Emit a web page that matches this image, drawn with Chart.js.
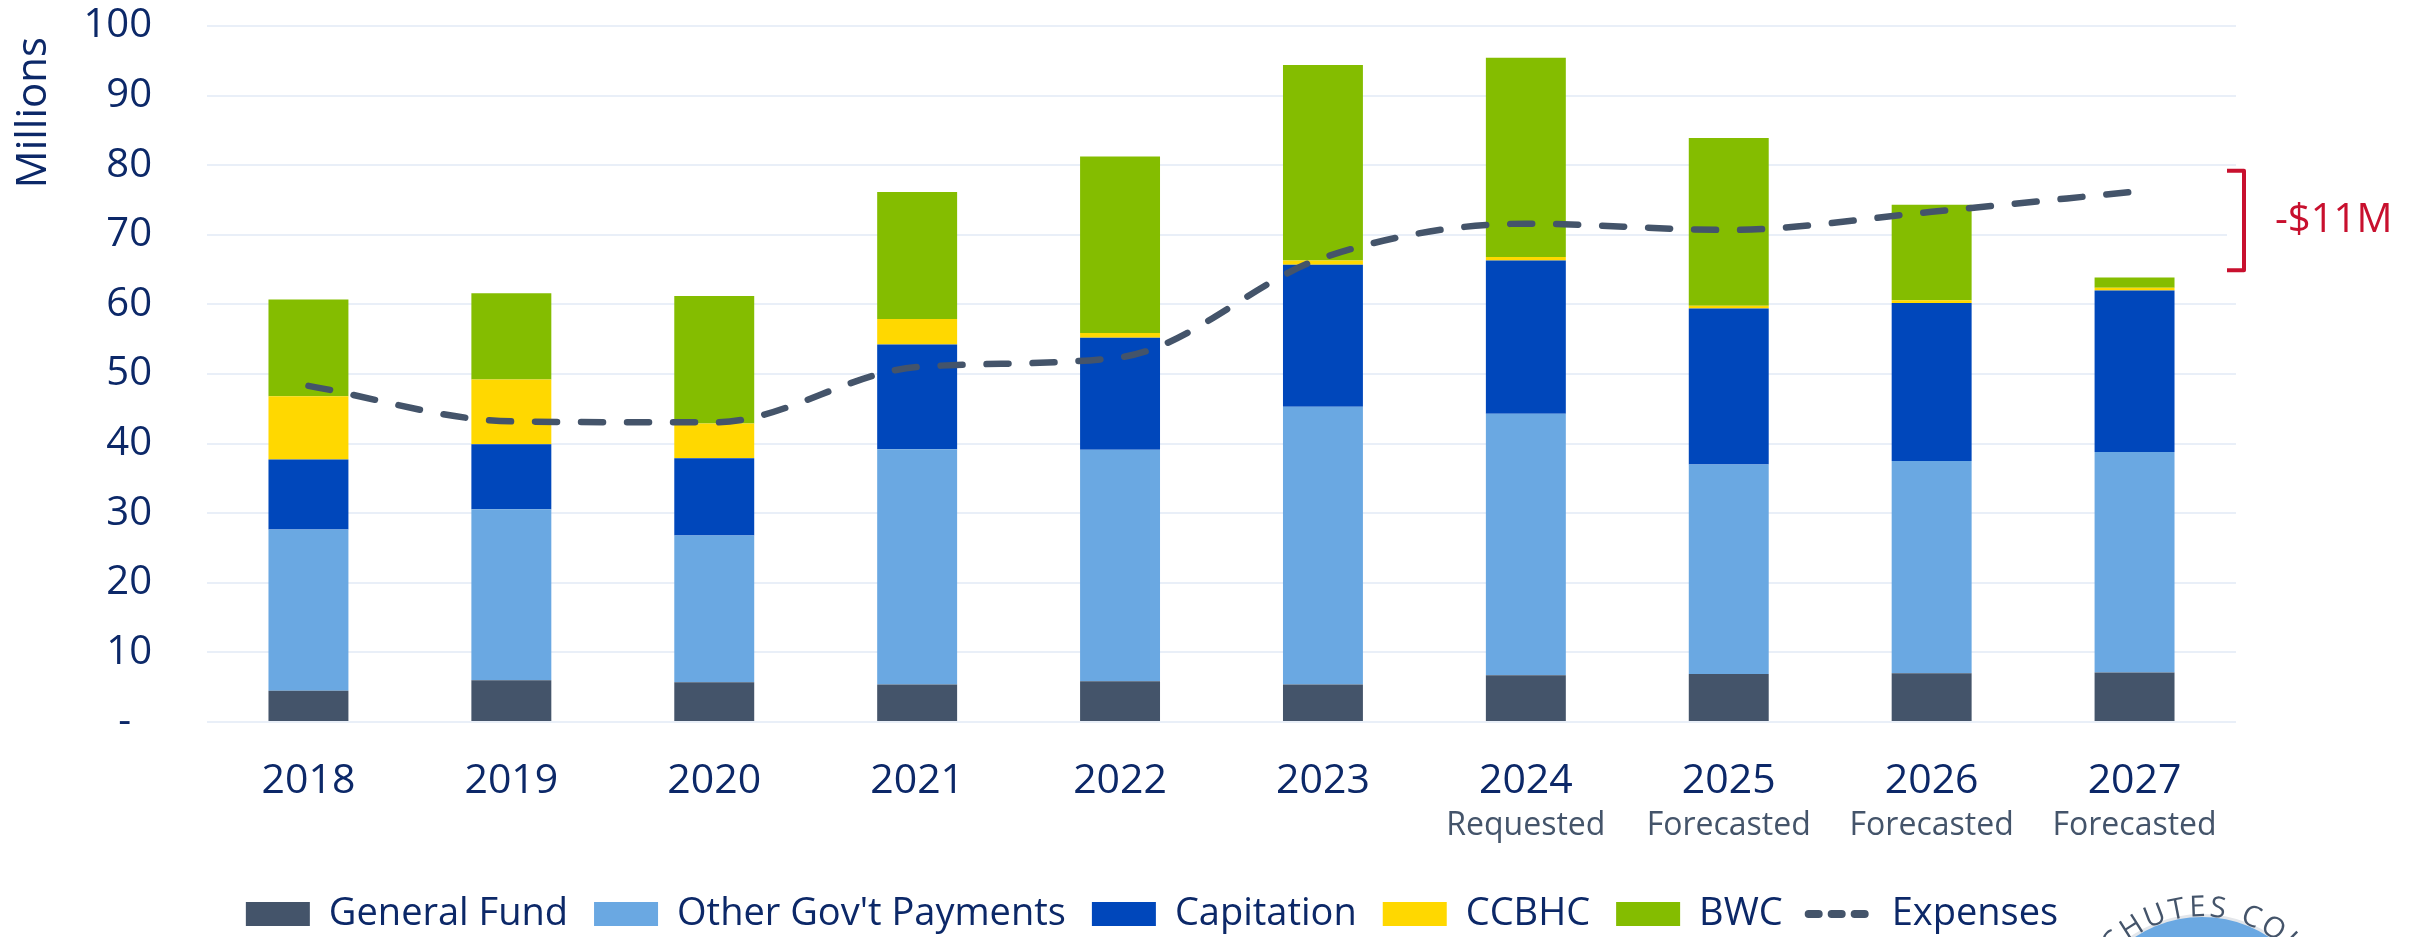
<!DOCTYPE html>
<html>
<head>
<meta charset="utf-8">
<title>Revenue by Source vs Expenses</title>
<script src="https://cdn.jsdelivr.net/npm/chart.js@4.4.1/dist/chart.umd.min.js"></script>
<style>
    body { margin: 0; background: #fff; }
    #wrap { width: 2422px; height: 937px; position: relative; }
</style>
</head>
<body>
<div id="wrap"><canvas id="chart1"></canvas></div>
<script>
// fiscal years and the note printed under each one
var years = ['2018', '2019', '2020', '2021', '2022', '2023', '2024', '2025', '2026', '2027'];
var yearNotes = ['', '', '', '', '', '', 'Requested', 'Forecasted', 'Forecasted', 'Forecasted'];

// revenue by source, millions
var generalFund = [4.5, 6.0, 5.7, 5.4, 5.85, 5.4, 6.7, 6.9, 7.0, 7.1];
var otherGov    = [23.15, 24.55, 21.1, 33.8, 33.25, 39.9, 37.6, 30.1, 30.5, 31.7];
var capitation  = [10.05, 9.35, 11.1, 15.05, 16.1, 20.4, 22.0, 22.4, 22.7, 23.2];
var ccbhc       = [9.1, 9.3, 5.0, 3.65, 0.7, 0.6, 0.5, 0.4, 0.4, 0.4];
var bwc         = [13.9, 12.4, 18.3, 18.25, 25.35, 28.1, 28.65, 24.1, 13.7, 1.45];

// expenses, millions
var expenses = [48.3, 43.2, 43.05, 51.0, 52.4, 66.7, 71.6, 70.7, 73.3, 76.2];

// 2027 shortfall bracket
var gapRange = [64.9, 79.2];
var gapLabel = '-$11M';

var navy = '#0C2868';
var slate = '#44546A';
var red = '#C8102E';

Chart.defaults.font.family = "'Open Sans', sans-serif";

var gapBracket = {
    id: 'gapBracket',
    afterDatasetsDraw: function(chart){
        var ctx = chart.ctx;
        var y = chart.scales.y;
        var top = y.getPixelForValue(gapRange[1]);
        var bottom = y.getPixelForValue(gapRange[0]);
        var x = chart.chartArea.right + 8;
        ctx.save();
        ctx.fillStyle = '#fff';
        ctx.fillRect(x - 17, top, 19, bottom - top);
        ctx.strokeStyle = red;
        ctx.lineWidth = 4;
        ctx.lineJoin = 'round';
        ctx.beginPath();
        ctx.moveTo(x - 17, top);
        ctx.lineTo(x, top);
        ctx.lineTo(x, bottom);
        ctx.lineTo(x - 17, bottom);
        ctx.stroke();
        ctx.fillStyle = red;
        ctx.font = "40px 'Open Sans'";
        ctx.textBaseline = 'middle';
        ctx.fillText(gapLabel, x + 31, (top + bottom) / 2);
        ctx.restore();
    }
};

// legend sits a bit right of the plot centre
var legendNudge = {
    id: 'legendNudge',
    afterLayout: function(chart){
        chart.legend.left += 34;
        chart.legend.right += 34;
    }
};

// county seal peeking in at the bottom right corner
var countySeal = {
    id: 'countySeal',
    afterDraw: function(chart){
        var ctx = chart.ctx;
        var cx = chart.width - 220;
        var cy = chart.height + 102;
        ctx.save();
        ctx.beginPath();
        ctx.arc(cx, cy, 125, 0, Math.PI * 2);
        ctx.fillStyle = '#E3E6EA';
        ctx.fill();
        ctx.beginPath();
        ctx.arc(cx, cy, 122, 0, Math.PI * 2);
        ctx.fillStyle = '#6AA8E2';
        ctx.fill();

        var text = 'DESCHUTES COUNTY';
        ctx.font = "29px 'Open Sans'";
        ctx.fillStyle = slate;
        ctx.textAlign = 'center';
        var r = 140, track = 6;
        var widths = [];
        for(var i = 0; i < text.length; i++){
            widths.push(ctx.measureText(text[i]).width);
        }
        // angle of each letter centre, 'E' of CHUTES just left of the top
        var angles = [0];
        for(i = 1; i < text.length; i++){
            angles.push(angles[i - 1] + ((widths[i - 1] + widths[i]) / 2 + track) / r);
        }
        var shift = -Math.PI / 2 - 0.035 - angles[7];
        for(i = 0; i < text.length; i++){
            var a = angles[i] + shift;
            ctx.save();
            ctx.translate(cx + Math.cos(a) * 131, cy + Math.sin(a) * 131);
            ctx.rotate(a + Math.PI / 2);
            ctx.fillText(text[i], 0, 0);
            ctx.restore();
        }
        ctx.restore();
    }
};

function barSet(label, values, color){
    return {
        type: 'bar',
        label: label,
        data: values,
        backgroundColor: color,
        borderWidth: 0,
        pointStyle: 'rect',
        stack: 'revenue',
        barPercentage: 0.394,
        categoryPercentage: 1
    };
}

var ctx = document.getElementById('chart1').getContext('2d');
var myChart = new Chart(ctx, {
    data: {
        labels: years,
        datasets: [
            barSet('General Fund', generalFund, '#44546A'),
            barSet("Other Gov't Payments", otherGov, '#6AA8E2'),
            barSet('Capitation', capitation, '#0047BB'),
            barSet('CCBHC', ccbhc, '#FFD800'),
            barSet('BWC', bwc, '#84BD00'),
            {
                type: 'line',
                label: 'Expenses',
                data: expenses,
                borderColor: slate,
                backgroundColor: slate,
                borderWidth: 6.5,
                borderDash: [22, 24],
                borderCapStyle: 'round',
                cubicInterpolationMode: 'monotone',
                pointRadius: 0,
                fill: false,
                order: -1
            }
        ]
    },
    options: {
        responsive: true,
        maintainAspectRatio: false,
        animation: false,
        layout: {
            padding: { top: 26, right: 186, left: 0, bottom: -6 }
        },
        plugins: {
            tooltip: { enabled: false },
            legend: {
                position: 'bottom',
                labels: {
                    sort: function(a, b){ return a.datasetIndex - b.datasetIndex; },
                    usePointStyle: true,
                    pointStyleWidth: 64,
                    boxHeight: 24,
                    padding: 26,
                    color: navy,
                    font: { size: 38 },
                    generateLabels: function(chart){
                        var items = Chart.defaults.plugins.legend.labels.generateLabels(chart);
                        items.forEach(function(item){
                            if(chart.data.datasets[item.datasetIndex].type === 'line'){
                                item.pointStyle = 'line';
                                item.lineDash = [10, 13];
                                item.lineWidth = 8;
                                item.lineCap = 'round';
                            } else {
                                item.pointStyle = 'rect';
                                item.lineWidth = 0;
                            }
                        });
                        return items;
                    }
                }
            }
        },
        scales: {
            x: {
                stacked: true,
                grid: { display: false, drawTicks: false },
                border: { display: false },
                ticks: {
                    color: navy,
                    font: { size: 41 },
                    padding: 35,
                    autoSkip: false,
                    maxRotation: 0
                },
                afterFit: function(scale){ scale.height = 83; }
            },
            x2: {
                type: 'category',
                labels: yearNotes,
                position: 'bottom',
                offset: true,
                weight: 1,
                grid: { display: false, drawTicks: false },
                border: { display: false },
                ticks: {
                    color: slate,
                    font: { size: 32 },
                    padding: 2,
                    autoSkip: false,
                    maxRotation: 0
                },
                afterFit: function(scale){ scale.height = 64; }
            },
            y: {
                stacked: true,
                min: 0,
                max: 100,
                border: { display: false },
                grid: { color: '#E9EFF8', lineWidth: 2, drawTicks: false },
                ticks: {
                    stepSize: 10,
                    color: navy,
                    font: { size: 40 },
                    padding: 55,
                    callback: function(v){ return v === 0 ? '-  ' : v; }
                },
                title: {
                    display: true,
                    text: 'Millions ',
                    align: 'end',
                    color: navy,
                    font: { size: 42 },
                    padding: { top: 9, bottom: 0 }
                },
                afterFit: function(scale){
                    scale.width = 207;
                    // only half a label needs to stick out above/below the plot
                    scale.paddingTop = 24;
                    scale.paddingBottom = 24;
                }
            }
        }
    },
    plugins: [gapBracket, legendNudge, countySeal]
});
</script>
</body>
</html>
